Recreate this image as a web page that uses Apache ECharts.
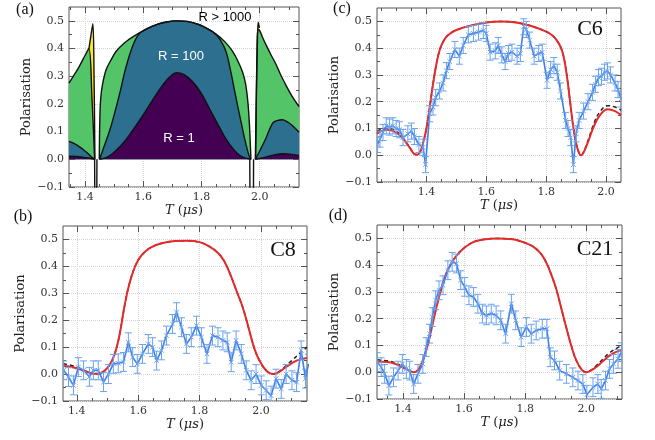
<!DOCTYPE html>
<html>
<head>
<meta charset="utf-8">
<script src="https://cdn.jsdelivr.net/npm/echarts@6/dist/echarts.min.js"></script>
<style>html,body{margin:0;padding:0;background:#fff}#chart{width:655px;height:440px}</style>
</head>
<body>
<div id="chart"></div>
<script>
// tick labels
const xMajor = [1.4, 1.6, 1.8, 2.0]
const xMinorA = [1.35, 1.45, 1.5, 1.55, 1.65, 1.7, 1.75, 1.85, 1.9, 1.95, 2.05, 2.1]
const xMinorB = [1.45, 1.5, 1.55, 1.65, 1.7, 1.75, 1.85, 1.9, 1.95, 2.05, 2.1]
const xMinorC = [1.25, 1.3, 1.35, 1.45, 1.5, 1.55, 1.65, 1.7, 1.75, 1.85, 1.9, 1.95]
const xMinorD = [1.35, 1.45, 1.5, 1.55, 1.65, 1.7, 1.75, 1.85, 1.9, 1.95, 2.05, 2.1]
const yMajor = [-0.1, 0, 0.1, 0.2, 0.3, 0.4, 0.5]
const yMinor = [-0.05, 0.05, 0.15, 0.25, 0.35, 0.45]

// (a) regions, R > 1000 / R = 100 / R = 1
const yellowLeft = [[1.4135, 0.40], [1.42, 0.445], [1.427, 0.49], [1.431, 0.3], [1.434, 0]]
const greenLeft = [[1.345, 0.275], [1.36, 0.30], [1.38, 0.335], [1.40, 0.375], [1.4135, 0.40], [1.424, 0.22], [1.433, 0]]
const blueLeft = [[1.345, 0.065], [1.36, 0.058], [1.38, 0.046], [1.40, 0.03], [1.415, 0.016], [1.425, 0.006], [1.433, 0]]
const purpleLeft = [[1.345, 0.011], [1.37, 0.01], [1.40, 0.006], [1.42, 0.003], [1.433, 0]]
const greenMid = [[1.449, 0], [1.451, 0.15], [1.454, 0.22], [1.46, 0.27], [1.473, 0.325], [1.49, 0.36], [1.507, 0.39], [1.535, 0.42], [1.564, 0.442], [1.61, 0.47], [1.65, 0.488], [1.68, 0.496], [1.713, 0.5], [1.75, 0.498], [1.793, 0.486], [1.82, 0.472], [1.85, 0.452], [1.88, 0.425], [1.907, 0.39], [1.925, 0.355], [1.941, 0.315], [1.952, 0.27], [1.96, 0.2], [1.965, 0.12], [1.968, 0.05], [1.97, 0]]
const blueMid = [[1.45, 0], [1.465, 0.045], [1.485, 0.105], [1.50, 0.16], [1.519, 0.237], [1.54, 0.33], [1.564, 0.41], [1.585, 0.452], [1.61, 0.47], [1.65, 0.488], [1.68, 0.496], [1.713, 0.5], [1.75, 0.498], [1.793, 0.486], [1.82, 0.472], [1.845, 0.455], [1.865, 0.43], [1.884, 0.39], [1.90, 0.32], [1.918, 0.225], [1.935, 0.14], [1.947, 0.08], [1.96, 0.025], [1.968, 0]]
const purpleMid = [[1.45, 0], [1.48, 0.01], [1.51, 0.035], [1.54, 0.07], [1.564, 0.105], [1.60, 0.16], [1.63, 0.21], [1.66, 0.258], [1.69, 0.296], [1.715, 0.313], [1.74, 0.306], [1.77, 0.28], [1.80, 0.237], [1.83, 0.178], [1.861, 0.117], [1.885, 0.072], [1.907, 0.04], [1.93, 0.015], [1.952, 0.004], [1.97, 0]]
const yellowRight = [[1.986, 0], [1.989, 0.25], [1.992, 0.42], [1.995, 0.495], [1.999, 0.475]]
const greenRight = [[1.985, 0], [1.988, 0.2], [1.991, 0.4], [1.994, 0.47], [2.0, 0.465], [2.01, 0.44], [2.021, 0.415], [2.04, 0.375], [2.055, 0.345], [2.07, 0.31], [2.089, 0.27], [2.11, 0.23], [2.135, 0.19]]
const blueRight = [[1.985, 0], [2.0, 0.03], [2.021, 0.075], [2.044, 0.13], [2.06, 0.14], [2.078, 0.143], [2.095, 0.135], [2.112, 0.122], [2.135, 0.098]]
const purpleRight = [[1.985, 0], [2.02, 0.008], [2.05, 0.016], [2.08, 0.02], [2.11, 0.018], [2.135, 0.014]]
const dipLeft = [[1.433, 0], [1.4335, -0.12], [1.4405, -0.12], [1.441, 0]]
const dipRight = [[1.966, 0], [1.9665, -0.12], [1.9785, -0.12], [1.979, 0]]

// C6
const c6T = [1.237, 1.245, 1.255, 1.266, 1.277, 1.288, 1.299, 1.31, 1.322, 1.338, 1.35, 1.36, 1.375, 1.389, 1.397, 1.411, 1.422, 1.431, 1.444, 1.456, 1.467, 1.478, 1.495, 1.51, 1.523, 1.54, 1.557, 1.574, 1.59, 1.6, 1.613, 1.63, 1.64, 1.652, 1.663, 1.674, 1.686, 1.703, 1.714, 1.725, 1.734, 1.745, 1.76, 1.775, 1.787, 1.803, 1.815, 1.826, 1.837, 1.848, 1.865, 1.873, 1.882, 1.891, 1.90, 1.91, 1.925, 1.94, 1.955, 1.965, 1.975, 1.985, 1.995, 2.005, 2.015, 2.03, 2.04, 2.05]
const c6P = [0.04, 0.06, 0.085, 0.11, 0.105, 0.11, 0.10, 0.095, 0.066, 0.08, 0.09, 0.07, 0.04, 0.03, -0.035, 0.155, 0.18, 0.215, 0.24, 0.27, 0.316, 0.35, 0.395, 0.37, 0.41, 0.45, 0.455, 0.46, 0.466, 0.455, 0.385, 0.39, 0.41, 0.375, 0.35, 0.38, 0.385, 0.37, 0.38, 0.48, 0.47, 0.43, 0.37, 0.38, 0.385, 0.28, 0.32, 0.335, 0.31, 0.24, 0.13, 0.10, 0.066, -0.035, 0.08, 0.13, 0.165, 0.20, 0.235, 0.265, 0.29, 0.295, 0.31, 0.315, 0.30, 0.27, 0.245, 0.21]
const c6Err = 0.03
const c6Theory = [[1.235, 0.081], [1.25, 0.09], [1.266, 0.095], [1.285, 0.092], [1.305, 0.08], [1.325, 0.058], [1.345, 0.027], [1.36, 0.004], [1.37, 0.002], [1.38, 0.015], [1.39, 0.05], [1.40, 0.1], [1.41, 0.17], [1.42, 0.25], [1.43, 0.32], [1.44, 0.375], [1.45, 0.41], [1.465, 0.44], [1.48, 0.455], [1.50, 0.468], [1.55, 0.485], [1.60, 0.496], [1.65, 0.5], [1.70, 0.496], [1.75, 0.483], [1.80, 0.462], [1.82, 0.448], [1.835, 0.43], [1.85, 0.40], [1.86, 0.36], [1.87, 0.29], [1.88, 0.2], [1.89, 0.11], [1.90, 0.045], [1.91, 0.008], [1.917, 0.0], [1.925, 0.01], [1.94, 0.05], [1.96, 0.11], [1.98, 0.15], [2.005, 0.172], [2.03, 0.165], [2.05, 0.15]]
const c6Dashed = [[1.235, 0.09], [1.25, 0.097], [1.266, 0.101], [1.285, 0.098], [1.305, 0.085], [1.325, 0.06], [1.345, 0.028], [1.36, 0.005], [1.37, 0.002], [1.38, 0.015], [1.39, 0.05], [1.40, 0.1], [1.41, 0.17], [1.42, 0.25], [1.43, 0.32], [1.44, 0.375], [1.45, 0.41], [1.465, 0.44], [1.48, 0.455], [1.50, 0.468], [1.55, 0.485], [1.60, 0.496], [1.65, 0.5], [1.70, 0.496], [1.75, 0.483], [1.80, 0.462], [1.82, 0.448], [1.835, 0.43], [1.85, 0.40], [1.86, 0.36], [1.87, 0.29], [1.88, 0.2], [1.89, 0.11], [1.90, 0.045], [1.91, 0.008], [1.917, 0.0], [1.925, 0.012], [1.94, 0.055], [1.96, 0.12], [1.98, 0.163], [2.005, 0.185], [2.03, 0.18], [2.05, 0.168]]

// C8
const c8T = [1.357, 1.373, 1.389, 1.405, 1.422, 1.441, 1.454, 1.47, 1.487, 1.503, 1.519, 1.535, 1.552, 1.568, 1.582, 1.597, 1.614, 1.633, 1.647, 1.66, 1.676, 1.692, 1.712, 1.725, 1.741, 1.757, 1.773, 1.79, 1.806, 1.824, 1.842, 1.86, 1.876, 1.89, 1.903, 1.919, 1.936, 1.952, 1.968, 1.984, 2.001, 2.017, 2.033, 2.049, 2.066, 2.082, 2.101, 2.116, 2.131, 2.145, 2.155]
const c8P = [0.014, -0.011, -0.042, 0.026, 0.014, -0.01, 0.014, 0.014, -0.03, 0.0, 0.038, 0.04, 0.045, 0.118, 0.063, 0.038, 0.075, 0.112, 0.1, 0.05, 0.088, 0.143, 0.186, 0.23, 0.174, 0.112, 0.137, 0.18, 0.137, 0.075, 0.143, 0.137, 0.125, 0.118, 0.044, 0.125, 0.075, 0.014, -0.023, 0.0, -0.042, -0.06, -0.08, -0.017, -0.055, 0.0, -0.023, -0.03, 0.088, -0.017, 0.038]
const c8Err = 0.035
const c8Theory = [[1.355, 0.03], [1.38, 0.027], [1.41, 0.018], [1.44, 0.006], [1.465, 0.0], [1.49, 0.012], [1.51, 0.04], [1.525, 0.08], [1.54, 0.15], [1.555, 0.25], [1.57, 0.33], [1.59, 0.40], [1.61, 0.44], [1.64, 0.47], [1.68, 0.487], [1.72, 0.494], [1.76, 0.495], [1.80, 0.49], [1.83, 0.475], [1.86, 0.45], [1.88, 0.42], [1.90, 0.37], [1.92, 0.31], [1.94, 0.25], [1.96, 0.17], [1.98, 0.09], [2.0, 0.04], [2.02, 0.01], [2.04, 0.0], [2.06, 0.008], [2.08, 0.025], [2.10, 0.04], [2.12, 0.052], [2.15, 0.06]]
const c8Dashed = [[1.355, 0.038], [1.38, 0.033], [1.41, 0.02], [1.44, 0.006], [1.465, 0.0], [1.49, 0.012], [1.51, 0.04], [1.525, 0.08], [1.54, 0.15], [1.555, 0.25], [1.57, 0.33], [1.59, 0.40], [1.61, 0.44], [1.64, 0.47], [1.68, 0.487], [1.72, 0.494], [1.76, 0.495], [1.80, 0.49], [1.83, 0.475], [1.86, 0.45], [1.88, 0.42], [1.90, 0.37], [1.92, 0.31], [1.94, 0.25], [1.96, 0.17], [1.98, 0.09], [2.0, 0.04], [2.02, 0.01], [2.04, 0.0], [2.06, 0.01], [2.08, 0.03], [2.10, 0.05], [2.12, 0.07], [2.15, 0.1]]

// C21
const c21T = [1.316, 1.329, 1.34, 1.354, 1.369, 1.384, 1.398, 1.411, 1.422, 1.435, 1.449, 1.465, 1.476, 1.487, 1.496, 1.507, 1.518, 1.531, 1.547, 1.561, 1.575, 1.589, 1.602, 1.616, 1.631, 1.645, 1.66, 1.673, 1.689, 1.705, 1.72, 1.736, 1.755, 1.769, 1.787, 1.804, 1.82, 1.836, 1.856, 1.871, 1.882, 1.896, 1.913, 1.935, 1.956, 1.973, 1.989, 2.002, 2.022, 2.038, 2.049, 2.063, 2.076, 2.089, 2.104, 2.115]
const c21P = [0.038, 0.019, -0.006, -0.05, -0.019, 0.006, 0.031, 0.0125, 0.006, -0.044, -0.006, 0.031, 0.094, 0.144, 0.206, 0.269, 0.306, 0.325, 0.381, 0.4125, 0.406, 0.344, 0.319, 0.2875, 0.281, 0.256, 0.219, 0.2125, 0.219, 0.2125, 0.194, 0.144, 0.256, 0.194, 0.131, 0.169, 0.144, 0.156, 0.1625, 0.1625, 0.056, 0.044, 0.006, -0.006, -0.019, -0.031, -0.044, -0.084, -0.056, -0.044, -0.0625, -0.031, 0.0125, 0.031, 0.05, 0.075]
const c21Err = 0.035
const c21Theory = [[1.315, 0.04], [1.35, 0.038], [1.378, 0.03], [1.41, 0.012], [1.435, 0.0], [1.45, 0.01], [1.465, 0.044], [1.477, 0.085], [1.487, 0.13], [1.498, 0.185], [1.509, 0.24], [1.525, 0.31], [1.542, 0.37], [1.56, 0.41], [1.575, 0.435], [1.596, 0.46], [1.62, 0.48], [1.64, 0.49], [1.67, 0.497], [1.705, 0.5], [1.74, 0.498], [1.771, 0.494], [1.80, 0.483], [1.825, 0.47], [1.85, 0.445], [1.869, 0.41], [1.887, 0.36], [1.902, 0.31], [1.918, 0.24], [1.935, 0.165], [1.952, 0.095], [1.967, 0.045], [1.985, 0.01], [2.0, 0.0], [2.015, 0.006], [2.033, 0.02], [2.055, 0.042], [2.076, 0.062], [2.1, 0.077], [2.117, 0.082]]
const c21Dashed = [[1.315, 0.045], [1.35, 0.043], [1.378, 0.033], [1.41, 0.013], [1.435, 0.0], [1.45, 0.01], [1.465, 0.044], [1.477, 0.085], [1.487, 0.13], [1.498, 0.185], [1.509, 0.24], [1.525, 0.31], [1.542, 0.37], [1.56, 0.41], [1.575, 0.435], [1.596, 0.46], [1.62, 0.48], [1.64, 0.49], [1.67, 0.497], [1.705, 0.5], [1.74, 0.498], [1.771, 0.494], [1.80, 0.483], [1.825, 0.47], [1.85, 0.445], [1.869, 0.41], [1.887, 0.36], [1.902, 0.31], [1.918, 0.24], [1.935, 0.165], [1.952, 0.095], [1.967, 0.045], [1.985, 0.01], [2.0, 0.0], [2.015, 0.008], [2.033, 0.025], [2.055, 0.05], [2.076, 0.072], [2.1, 0.09], [2.117, 0.1]]

const frameColor = '#555'
const serif = 'DejaVu Serif'
const redColor = '#e52a2a'
const blueColor = '#3d7fe6'
const errColor = '#6aa2ef'

const fmt = (v) => (v < 0 ? '\u2212' : '') + Math.abs(v).toFixed(1)

const grids = [
  { left: 69, top: 7, width: 230, height: 180 },
  { left: 377, top: 8, width: 244, height: 174 },
  { left: 63, top: 226, width: 244, height: 175 },
  { left: 377, top: 225, width: 245, height: 174 }
].map(g => Object.assign(g, { show: true, borderColor: frameColor, borderWidth: 1, backgroundColor: 'transparent', outerBoundsMode: 'none', containLabel: false }))

const xAxes = []
const yAxes = []

// main axis (labels, major ticks, grid) + minor ticks, on both sides of the frame
function frameAxes(isX, gi, range, majors, minors) {
  const list = isX ? xAxes : yAxes
  const sides = isX ? ['bottom', 'top'] : ['left', 'right']
  const mainIndex = list.length
  sides.forEach((side, k) => {
    [majors, minors].forEach((vals, m) => {
      const ax = {
        type: 'value', gridIndex: gi, position: side, min: range[0], max: range[1],
        axisLine: { show: false, onZero: false },
        axisTick: { show: true, inside: true, length: m ? 3 : 6, customValues: vals, lineStyle: { color: frameColor, width: 1 } },
        axisLabel: { show: false },
        splitLine: { show: false }
      }
      if (k === 0 && m === 0) {
        ax.axisLabel = { show: true, customValues: vals, formatter: fmt, fontFamily: serif, fontSize: 11, color: '#333', margin: 5 }
        ax.splitLine = { show: true, lineStyle: { color: '#d4d4d4', type: 'dotted', width: 1 } }
        if (isX) {
          ax.name = '{i|T} ({i|μs})'
          ax.nameLocation = 'middle'
          ax.nameGap = 17
          ax.nameTextStyle = { fontFamily: serif, fontSize: 13, color: '#222', rich: { i: { fontFamily: serif, fontSize: 13, fontStyle: 'italic', color: '#222' } } }
        } else {
          ax.name = 'Polarisation'
          ax.nameLocation = 'middle'
          ax.nameGap = 34
          ax.nameTextStyle = { fontFamily: serif, fontSize: 13, color: '#222' }
        }
      }
      list.push(ax)
    })
  })
  return mainIndex
}

const axA = [frameAxes(true, 0, [1.345, 2.135], xMajor, xMinorA), frameAxes(false, 0, [-0.1, 0.55], yMajor, yMinor)]
const axC = [frameAxes(true, 1, [1.235, 2.05], xMajor, xMinorC), frameAxes(false, 1, [-0.1, 0.55], yMajor, yMinor)]
const axB = [frameAxes(true, 2, [1.355, 2.15], xMajor, xMinorB), frameAxes(false, 2, [-0.1, 0.55], yMajor, yMinor)]
const axD = [frameAxes(true, 3, [1.315, 2.117], xMajor, xMinorD), frameAxes(false, 3, [-0.1, 0.55], yMajor, yMinor)]

function region(ax, pts, color) {
  return {
    type: 'line', xAxisIndex: ax[0], yAxisIndex: ax[1], data: pts,
    symbol: 'none', smooth: 0.35,
    lineStyle: { color: '#111', width: 1.4 },
    areaStyle: { color: color, opacity: 1 }
  }
}

function plainLine(ax, pts) {
  return {
    type: 'line', xAxisIndex: ax[0], yAxisIndex: ax[1], data: pts,
    symbol: 'none', lineStyle: { color: '#111', width: 1.4 }
  }
}

function curve(ax, pts, color, dashed) {
  return {
    type: 'line', xAxisIndex: ax[0], yAxisIndex: ax[1], data: pts,
    symbol: 'none', smooth: 0.4, z: 2,
    lineStyle: dashed ? { color: '#222', width: 1.5, type: [4, 3] } : { color: color, width: 2 }
  }
}

function measured(ax, ts, ps) {
  return {
    type: 'line', xAxisIndex: ax[0], yAxisIndex: ax[1], z: 3,
    data: ts.map((t, i) => [t, ps[i]]),
    symbol: 'none', lineStyle: { color: blueColor, width: 1.6 }
  }
}

function errorBars(ax, ts, ps, err) {
  return {
    type: 'custom', xAxisIndex: ax[0], yAxisIndex: ax[1], z: 4, clip: true,
    data: ts.map((t, i) => [t, ps[i], err]),
    encode: { x: 0, y: 1 },
    renderItem: (params, api) => {
      const c = api.coord([api.value(0), api.value(1)])
      const top = api.coord([api.value(0), api.value(1) + api.value(2)])[1]
      const bot = api.coord([api.value(0), api.value(1) - api.value(2)])[1]
      const s = { stroke: errColor, lineWidth: 1 }
      const cap = 3.5
      const m = 2.3
      return {
        type: 'group',
        children: [
          { type: 'line', shape: { x1: c[0], y1: top, x2: c[0], y2: bot }, style: s },
          { type: 'line', shape: { x1: c[0] - cap, y1: top, x2: c[0] + cap, y2: top }, style: s },
          { type: 'line', shape: { x1: c[0] - cap, y1: bot, x2: c[0] + cap, y2: bot }, style: s },
          { type: 'line', shape: { x1: c[0] - m, y1: c[1] - m, x2: c[0] + m, y2: c[1] + m }, style: s },
          { type: 'line', shape: { x1: c[0] - m, y1: c[1] + m, x2: c[0] + m, y2: c[1] - m }, style: s }
        ]
      }
    }
  }
}

const yellow = '#fde725'
const green = '#53c568'
const teal = '#2c6f8e'
const purple = '#440154'

const series = [
  region(axA, yellowLeft, yellow), region(axA, yellowRight, yellow),
  region(axA, greenLeft, green), region(axA, greenMid, green), region(axA, greenRight, green),
  region(axA, blueLeft, teal), region(axA, blueMid, teal), region(axA, blueRight, teal),
  region(axA, purpleLeft, purple), region(axA, purpleMid, purple), region(axA, purpleRight, purple),
  plainLine(axA, dipLeft), plainLine(axA, dipRight),

  curve(axC, c6Dashed, null, true), curve(axC, c6Theory, redColor, false),
  measured(axC, c6T, c6P), errorBars(axC, c6T, c6P, c6Err),

  curve(axB, c8Dashed, null, true), curve(axB, c8Theory, redColor, false),
  measured(axB, c8T, c8P), errorBars(axB, c8T, c8P, c8Err),

  curve(axD, c21Dashed, null, true), curve(axD, c21Theory, redColor, false),
  measured(axD, c21T, c21P), errorBars(axD, c21T, c21P, c21Err)
]

function label(text, x, y, size, family, color) {
  return {
    type: 'text', x: x, y: y, z: 100,
    style: { text: text, fontSize: size, fontFamily: family, fill: color || '#111', align: 'center', verticalAlign: 'middle' }
  }
}

const graphic = [
  label('(a)', 25, 10, 16, 'Liberation Serif'),
  label('(c)', 342, 9, 16, 'Liberation Serif'),
  label('(b)', 23, 217, 16, 'Liberation Serif'),
  label('(d)', 338, 216, 16, 'Liberation Serif'),
  label('C6', 590, 29, 22, 'Liberation Serif'),
  label('C8', 283, 250, 22, 'Liberation Serif'),
  label('C21', 595, 249, 22, 'Liberation Serif'),
  label('R > 1000', 225, 17, 13, 'Liberation Sans', '#000'),
  label('R = 100', 181, 56, 13, 'Liberation Sans', '#fff'),
  label('R = 1', 179, 138, 13, 'Liberation Sans', '#fff')
]

const chart = echarts.init(document.getElementById('chart'), null, { renderer: 'canvas' })
chart.setOption({
  animation: false,
  backgroundColor: '#fff',
  grid: grids,
  xAxis: xAxes,
  yAxis: yAxes,
  series: series,
  graphic: graphic
})
</script>
</body>
</html>
